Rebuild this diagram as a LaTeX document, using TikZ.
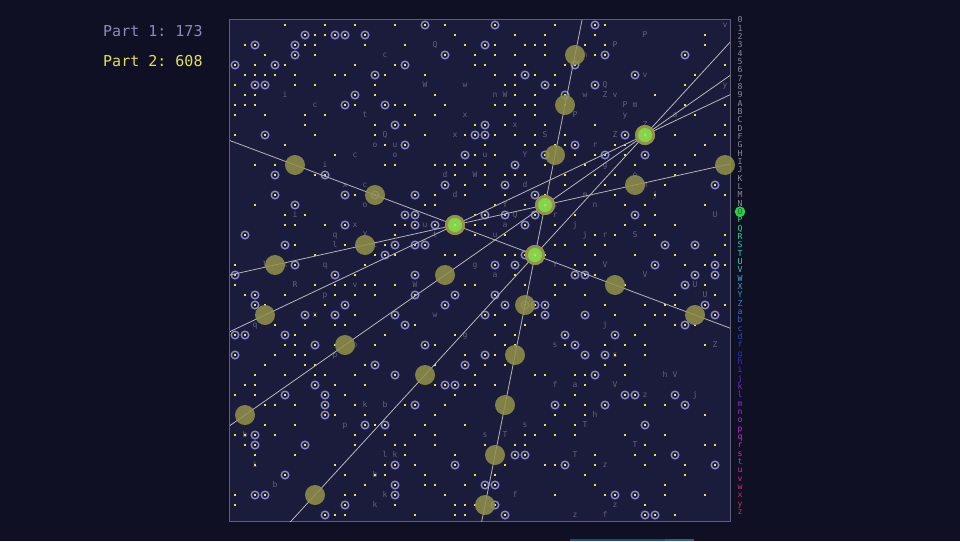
\documentclass[tikz,border=0pt]{standalone}
\usepackage{fontspec}
\setmonofont{DejaVu Sans Mono}
\usetikzlibrary{calc}
\definecolor{bgout}{HTML}{0F1024}
\definecolor{bgbox}{HTML}{1B1B3B}
\definecolor{boxedge}{HTML}{5E5E74}
\definecolor{dotc}{HTML}{E8E64C}
\definecolor{ringc}{HTML}{8A8ACC}
\definecolor{lettc}{HTML}{62627C}
\definecolor{p1c}{HTML}{8C8CBA}
\definecolor{p2c}{HTML}{E2E052}
\definecolor{olive}{HTML}{939249}
\definecolor{antgreen}{HTML}{84D84C}
\definecolor{linec}{HTML}{B8B8BC}
\definecolor{listgray}{HTML}{8A8A9C}
\definecolor{hlgreen}{HTML}{2FCC4A}
\definecolor{hltext}{HTML}{1B6B2B}
\definecolor{barA}{HTML}{1E4A7E}
\definecolor{barB}{HTML}{2B5C92}
\tikzset{
 gl/.style={font=\ttfamily\fontsize{8}{8}\selectfont, text=lettc, inner sep=0pt, text height=5.8pt, text depth=0pt},
 lst/.style={font=\ttfamily\fontsize{8.2}{8}\selectfont, inner sep=0pt, text height=5.8pt, text depth=0pt},
 dotm/.style={fill=dotc},
 ringm/.style={draw=ringc, line width=1.4pt},
 oliveant/.style={circle, fill=olive, fill opacity=0.85, minimum size=20pt, inner sep=0pt},
 greenant/.style={circle, fill=olive, minimum size=20pt, inner sep=0pt},
 antline/.style={draw=linec, line width=0.8pt},
 parttext/.style={font=\ttfamily\fontsize{15}{15}\selectfont, anchor=west, inner sep=0pt},
}
\begin{document}
\begin{tikzpicture}[x=1pt,y=-1pt]
\fill[bgout] (0,0) rectangle (960,541);
\useasboundingbox (0,0) rectangle (960,541);
% texts
\node[parttext, text=p1c] (part1) at (103,31) {Part 1: 173};
\node[parttext, text=p2c] (part2) at (103,61) {Part 2: 608};
% box
\draw[fill=bgbox, draw=boxedge, line width=1pt] (229.5,19.5) rectangle (730.5,521.5);
% bottom bar
\fill[barA] (570,539) rectangle (665,541);
\fill[barB] (665,539) rectangle (694,541);
% grid letters
\foreach \cc/\rr/\lt in {20/2/Q,15/3/c,19/6/W,23/6/w,5/7/i,8/8/c,13/9/t,23/9/x,15/11/Q,22/11/x,14/12/o,16/12/u,12/13/c,16/13/o,9/14/i,21/15/d,24/15/W,11/16/x,13/16/c,22/17/d,13/18/o,6/19/i,12/20/x,19/20/u,10/21/q,13/21/X,20/21/t,10/22/l,14/22/t,3/24/l,5/24/x,9/24/q,24/24/g,
49/0/v,41/1/P,38/2/P,35/3/n,41/5/v,37/6/Q,49/6/y,26/7/n,27/7/W,35/7/w,37/7/Z,38/7/v,39/8/P,40/8/m,34/9/P,39/9/y,44/9/a,28/10/x,41/10/Z,31/11/S,38/11/Z,36/12/r,25/13/u,29/13/Y,37/14/g,40/15/o,29/16/d,41/16/m,35/17/m,42/17/j,27/18/Y,32/18/s,36/18/n,28/19/Q,32/19/r,48/19/U,27/20/a,34/20/j,26/21/u,35/21/j,37/21/r,40/21/S,32/24/Y,37/24/V,
6/26/R,12/26/v,18/26/W,9/27/p,8/29/x,20/29/w,2/30/q,23/31/g,12/32/p,10/33/p,13/38/k,15/38/b,11/40/p,1/41/b,15/43/l,16/43/k,2/44/i,14/45/b,4/46/b,15/47/k,14/48/k,
26/25/a,41/25/V,46/26/U,47/27/U,37/30/j,32/32/s,48/32/Z,38/33/s,43/35/h,44/35/V,32/36/f,34/36/a,38/36/V,41/37/z,46/37/j,36/39/h,29/40/s,35/40/T,25/41/s,27/41/T,40/42/T,34/43/T,37/44/z,28/47/f,38/48/z,34/49/z,37/49/f}
  \node[gl] (t-\cc-\rr) at ({235+10*\cc},{25+10*\rr}) {\lt};
% dots
\foreach \rr/\cs in {
0/{5,9,12,16,21,32,37},
1/{8,9,22,28,31,36,47},
2/{1,7,8,13,17,23,26,29,30,31,35,37,47},
3/{3,8,24,26,28,31,36},
4/{2,5,12,16,24,25,29,33,49},
5/{1,2,3,4,6,10,11,15,19,26,28,30,32,46},
6/{0,6,8,14,27,28,32,45},
7/{1,2,14,20,28,30,42},
8/{0,1,2,12,16,17,21,26,27,29,30,33,45,49},
9/{0,3,7,9,18,20,28,30,46},
10/{7,14,17,24,27,31,36,49},
11/{0,8,14,19,23,26,28,30,33,44,48,49},
12/{5,15,25,29,30,32,33,38,39,47},
13/{10,24,26,34,36,39,46},
14/{2,4,15,16,20,21,22,23,25,31,35,40,43,44,45},
15/{8,22,25,27,28,29,33,36,38,44},
16/{23,25,33,37,43},
17/{12,20,23,27,31,38,42,49},
18/{2,19,20,26,29,39,41,47},
19/{5,7,24,34,42},
20/{5,6,9,16,17,24,25,32,39,41,44},
21/{16,24,27,36,38,42,49},
22/{6,11,15,32,33,35,37,49},
23/{8,14,16,21,22,27,28,31,36,40,44,48},
24/{0,13,34,35,45,47,49},
25/{12,28,36},
26/{0,8,10,11,13,14,16,23,24,29,32,33,39,47},
27/{1,5,10,12,14,32,35,44,48},
28/{3,9,37,41,43,44,49},
29/{8,12,26,30,38,42,43},
30/{4,7,10,11,18,27,29,41,44,46},
31/{6,15,22,26,28,40},
32/{5,6,10,14,20,27,28,33,37,39,41,47},
33/{4,6,7,23,26,38,41},
34/{3,7,8,13,20,25,27,37,39},
35/{2,5,8,9,12,24,30,31,34,35,39},
36/{1,2,10,13,20,23,24,26,35},
37/{0,2,11,22,34},
38/{3,4,6,12,17,21,33,35,41,43},
39/{10,13,20,32,35,47},
40/{3,6,14,19,23,31,34},
41/{0,1,4,12,15,18,20,29,30,32,34,39,43},
42/{1,12,16,17,20,25,28,29,41,47,48},
43/{2,6,17,22,36,40,42},
44/{2,10,15,18,27,31,32,36,41,45},
45/{11,14,15,19,24,26,35,45},
46/{13,19,20,23,36,43},
47/{0,11,12,21,32,37,43,47},
48/{0,16,22,23,24,41},
49/{10,11,18,22,23,44}}
{ \foreach \cc in \cs { \fill[dotm] ({233.7+10*\cc},{23.7+10*\rr}) rectangle ++(2.6,2.6); } }
% rings
\foreach \rr/\cs in {
0/{19,26,36},
1/{7,10,11,13},
2/{2,6,25},
3/{6,21,37,45},
4/{0,4,17,34},
5/{14,29,40},
6/{2,3,31,36},
7/{12,33},
8/{11,15},
10/{16,25},
11/{3,24,25,39},
12/{17,34},
13/{23,31,37,41},
14/{28},
15/{4,9},
16/{21,27,48},
17/{4,11,14,18,30},
18/{6},
19/{17,18,25,27,30,40},
20/{11,18,20,29},
21/{1},
22/{5,16,18,19,43,46},
23/{15,29},
24/{6,26,28,42,48},
25/{0,10,18,34,35,46,48},
26/{45},
27/{2,18,22,26},
28/{2,11,21,27,29,30,31,47},
29/{7,10,16,25,31,35,48},
30/{17,45},
31/{0,1,5,33,38},
32/{8,19,34},
33/{0,25,35,37},
34/{14,23},
35/{16,36},
36/{8,21,22},
37/{5,9,39,40,44},
38/{9,18,32,37,45},
39/{9},
40/{13,15,41},
41/{2},
42/{2,7},
43/{28,29,44},
44/{16,22,33,48},
45/{5},
46/{16,25,26},
47/{2,3,16,38,40},
48/{11,26},
49/{9,27,41,42}}
{ \foreach \cc in \cs {
   \draw[ringm] ({235+10*\cc},{25+10*\rr}) circle[radius=3.8];
   \fill[dotm] ({233.7+10*\cc},{23.7+10*\rr}) rectangle ++(2.6,2.6); } }
% antennas of the current frequency
\node[greenant] (g1) at (645,135) {};
\node[greenant] (g2) at (545,205) {};
\node[greenant] (g3) at (455,225) {};
\node[greenant] (g4) at (535,255) {};
% lines through each pair
\begin{scope}
\clip (230,20) rectangle (730,521);
\draw[antline] ($(g1)!-8!(g2)$) -- ($(g2)!-8!(g1)$);
\draw[antline] ($(g1)!-8!(g3)$) -- ($(g3)!-8!(g1)$);
\draw[antline] ($(g1)!-8!(g4)$) -- ($(g4)!-8!(g1)$);
\draw[antline] ($(g2)!-8!(g3)$) -- ($(g3)!-8!(g2)$);
\draw[antline] ($(g2)!-8!(g4)$) -- ($(g4)!-8!(g2)$);
\draw[antline] ($(g3)!-8!(g4)$) -- ($(g4)!-8!(g3)$);
\end{scope}
% antinodes on the lines
\foreach \px/\py [count=\n] in {575/55,565/105,555/155,725/165,295/165,375/195,635/185,365/245,275/265,445/275,615/285,265/315,525/305,695/315,345/345,515/355,425/375,245/415,505/405,495/455,315/495,485/505}
  \node[oliveant] (a\n) at (\px,\py) {};
% green antennas on top
\foreach \g in {g1,g2,g3,g4} {
  \fill[olive] (\g) circle[radius=10];
  \fill[antgreen, opacity=0.95] (\g) circle[radius=7];
  \fill[dotc, opacity=0.6] (\g) circle[radius=1.5];
}
% side list of frequencies
\foreach \ch [count=\idx from 0] in {0,1,2,3,4,5,6,7,8,9,A,B,C,D,F,G,H,I,J,K,L,M,N,O,P,Q,R,S,T,U,V,W,X,Y,Z,a,b,c,d,f,g,h,i,j,k,l,m,n,o,p,q,r,s,t,u,v,w,x,y,z}{
  \pgfmathsetmacro\yy{20+\idx*8.333}
  \ifnum\idx<23
    \node[lst, text=listgray] (L\idx) at (740,\yy) {\ch};
  \else\ifnum\idx=23
    \fill[hlgreen] (740,\yy) circle[radius=5.3];
    \node[lst, text=hltext] (L\idx) at (740,\yy) {\ch};
  \else
    \pgfmathsetmacro\hh{(150+(\idx-24)*200/35)/360}
    \definecolor{tmph}{hsb}{\hh,0.78,0.82}
    \colorlet{tmpc}[rgb]{tmph}
    \node[lst, text=tmpc] (L\idx) at (740,\yy) {\ch};
  \fi\fi
}
\end{tikzpicture}
\end{document}
